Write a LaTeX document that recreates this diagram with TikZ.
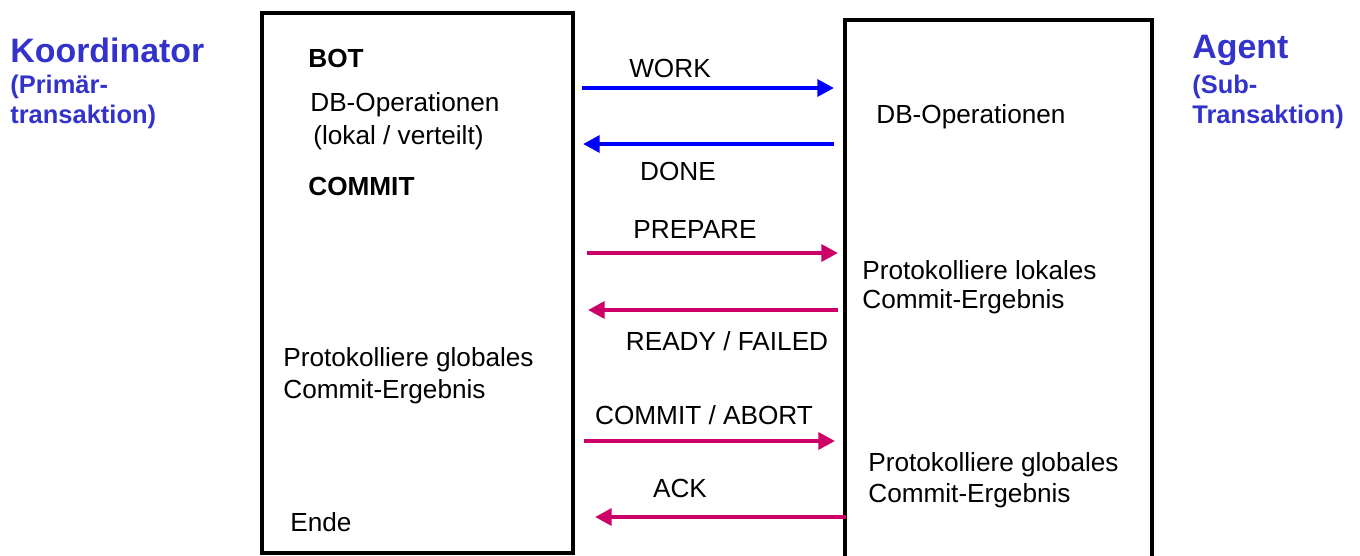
\documentclass[tikz,border=0pt]{standalone}
\usepackage{fontspec}
\setmainfont{Liberation Sans}
\usepackage{xcolor}
\usetikzlibrary{arrows.meta,positioning}
\definecolor{titleblue}{RGB}{51,51,204}
\definecolor{msgblue}{RGB}{0,0,255}
\definecolor{msgred}{RGB}{204,0,102}
\tikzset{
  lane/.style={line width=2.8pt},
  txt/.style={anchor=west,inner sep=0pt,font=\fontsize{14.9}{18}\selectfont},
  txtb/.style={txt,font=\fontsize{14.9}{18}\selectfont\bfseries},
  msg/.style={inner sep=0pt,font=\fontsize{14.9}{18}\selectfont},
  side/.style={anchor=west,inner sep=0pt,text=titleblue,font=\fontsize{14.5}{17}\selectfont\bfseries},
  work/.style={line width=2.8pt,msgblue,-{Triangle[length=9.5pt,width=9.5pt]}},
  vote/.style={line width=2.8pt,msgred,-{Triangle[length=9.5pt,width=9.5pt]}}
}
\begin{document}
\begin{tikzpicture}[x=0.02cm,y=-0.02cm]
    \useasboundingbox (0,0) rectangle (1360,555);
    % the two parties
    \draw[lane] (262,13) rectangle (573,553);
    \draw[lane] (845,580) -- (845,20) -- (1152,20) -- (1152,580);
    \node[side,font=\fontsize{19.3}{22}\selectfont\bfseries] (koord) at (10,50) {Koordinator};
    \node[side] (koord2) at (10,87) {(Prim\"ar-};
    \node[side] (koord3) at (10,117) {transaktion)};
    \node[side,font=\fontsize{19.3}{22}\selectfont\bfseries] (agent) at (1192,50) {Agent};
    \node[side] (agent2) at (1192,87) {(Sub-};
    \node[side] (agent3) at (1192,117) {Transaktion)};
    % coordinator side
    \node[txtb] (bot) at (308,58) {BOT};
    \node[txt] (dbops) at (310,105) {DB-Operationen};
    \node[txt] (lokal) at (313,138) {(lokal / verteilt)};
    \node[txtb] (commit) at (308,186) {COMMIT};
    \node[txt] (glob1) at (283,360) {Protokolliere globales};
    \node[txt] (glob2) at (283,392) {Commit-Ergebnis};
    \node[txt] (ende) at (290,522) {Ende};
    % agent side
    \node[txt] (adbops) at (876,117) {DB-Operationen};
    \node[txt] (alok1) at (862,270) {Protokolliere lokales};
    \node[txt] (alok2) at (862,302) {Commit-Ergebnis};
    \node[txt] (aglob1) at (868,465) {Protokolliere globales};
    \node[txt] (aglob2) at (868,496) {Commit-Ergebnis};
    % message ends
    \coordinate (w1) at (582,88);  \coordinate (w2) at (834,88);
    \coordinate (d1) at (834,144); \coordinate (d2) at (583,144);
    \coordinate (p1) at (587,253); \coordinate (p2) at (838,253);
    \coordinate (r1) at (838,310); \coordinate (r2) at (588,310);
    \coordinate (c1) at (584,441); \coordinate (c2) at (835,441);
    \coordinate (a1) at (846,517); \coordinate (a2) at (595,517);
    % messages
    \draw[work] (w1) -- (w2);
    \node[msg] (lwork) at (670,68) {WORK};
    \draw[work] (d1) -- (d2);
    \node[msg] (ldone) at (678,171) {DONE};
    \draw[vote] (p1) -- (p2);
    \node[msg] (lprep) at (695,229) {PREPARE};
    \draw[vote] (r1) -- (r2);
    \node[msg] (lready) at (727,341) {READY / FAILED};
    \draw[vote] (c1) -- (c2);
    \node[msg] (lcommit) at (704,415) {COMMIT / ABORT};
    \draw[vote] (a1) -- (a2);
    \node[msg] (lack) at (680,488) {ACK};
\end{tikzpicture}
\end{document}
